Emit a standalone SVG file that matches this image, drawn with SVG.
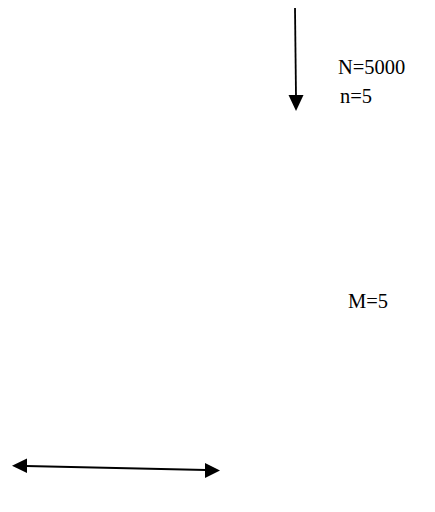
<svg xmlns="http://www.w3.org/2000/svg" width="435" height="512" viewBox="0 0 435 512">
<style>
.lbl{font-family:"Liberation Serif","Times New Roman",serif;font-size:20.5px;fill:#000}
.ln{stroke:#000;stroke-width:1.8;fill:none}
.hd{fill:#000}
</style>
<rect width="435" height="512" fill="#fff"/>
<g id="connectors">
<line class="ln" x1="295" y1="8" x2="296" y2="97"/>
<path class="hd" d="M288.5,95 L303.5,95 L296,111 Z"/>
<line class="ln" x1="26" y1="466" x2="206" y2="470"/>
<path class="hd" d="M12,465.7 L27,458.5 L27,473 Z"/>
<path class="hd" d="M220,470.5 L205,463 L205,478 Z"/>
</g>
<g id="label-N"><text class="lbl" x="338" y="74">N=5000</text></g>
<g id="label-n"><text class="lbl" x="340" y="103">n=5</text></g>
<g id="label-M"><text class="lbl" x="348" y="308">M=5</text></g>
</svg>
